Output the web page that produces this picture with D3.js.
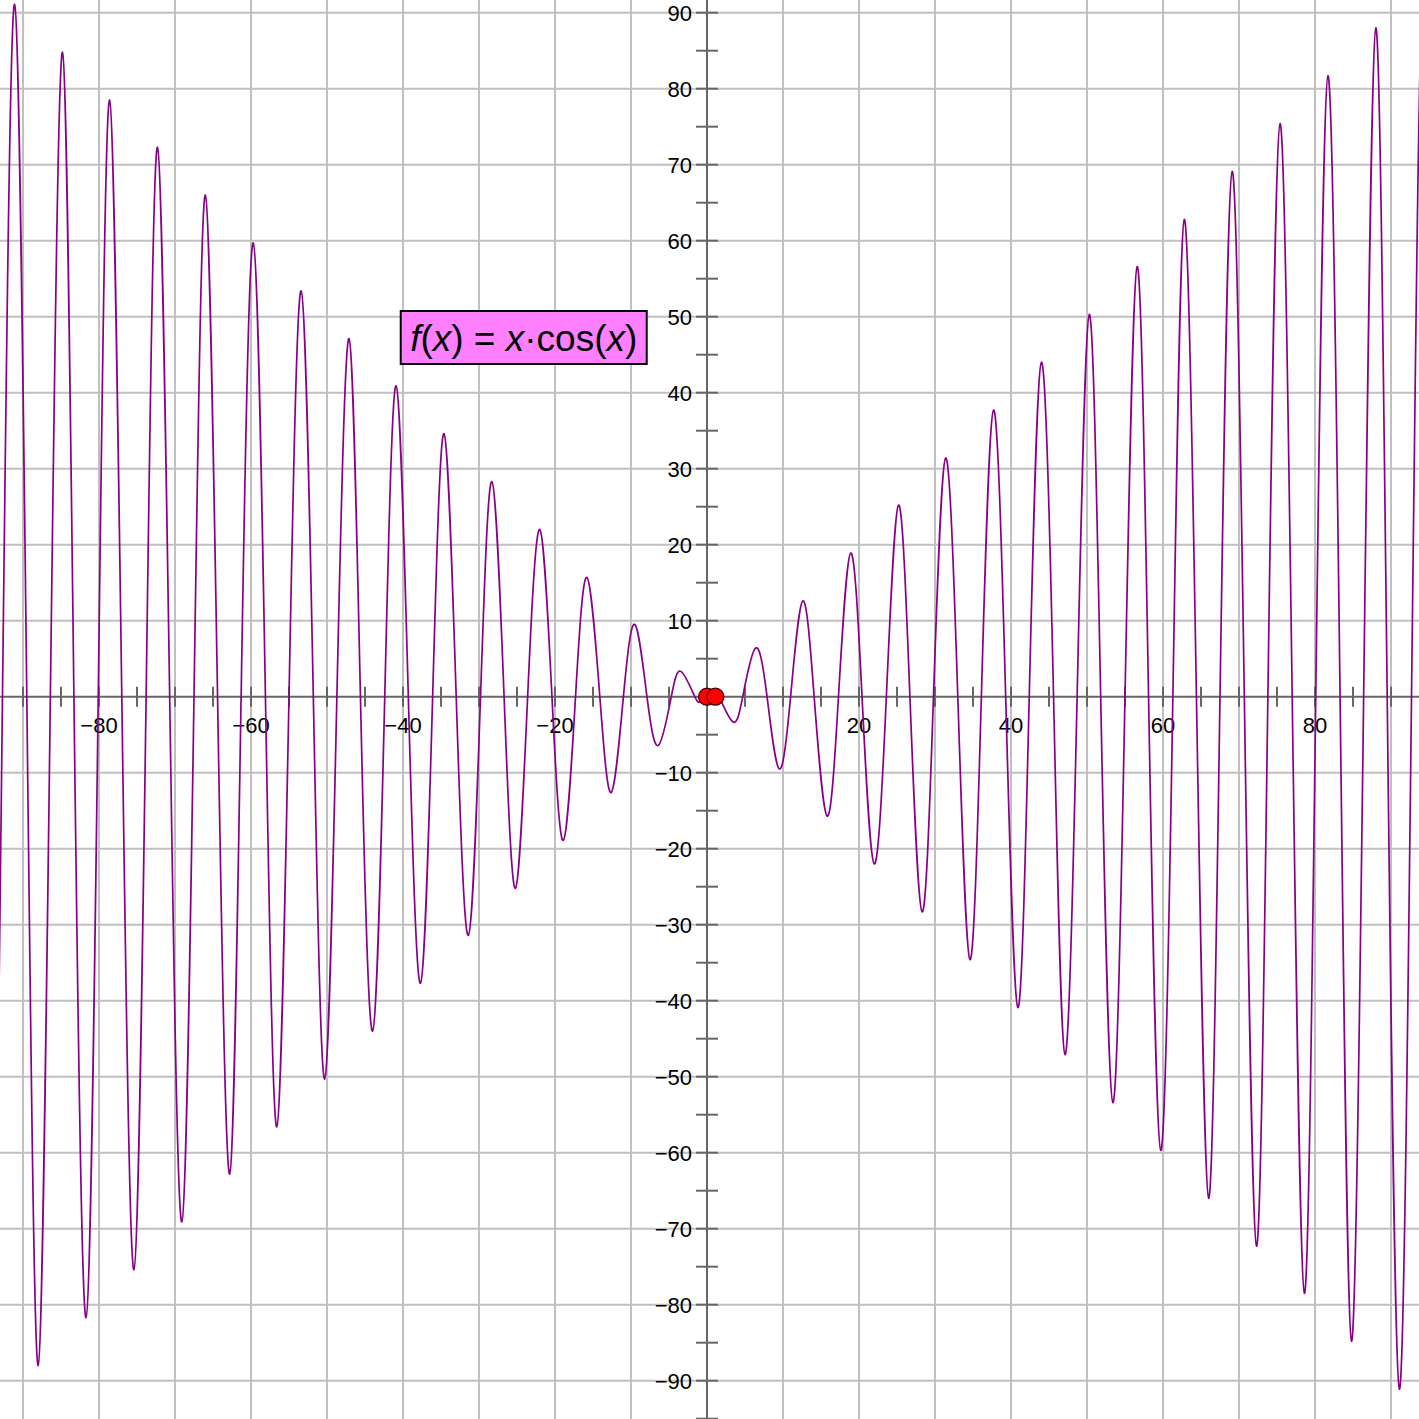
<!DOCTYPE html>
<html>
<head>
<meta charset="utf-8">
<script src="https://cdn.jsdelivr.net/npm/d3@7"></script>
<style>
  html, body { margin: 0; padding: 0; background: #fff; }
  svg { display: block; }
</style>
</head>
<body>
<script>
// ---- data ----
// local extrema of the plotted curve (x, y)
const extremaX = [-97.4,-94.3,-91.1,-88.0,-84.8,-81.7,-78.6,-75.4,-72.3,-69.1,-66.0,-62.8,-59.7,-56.6,-53.4,-50.3,-47.1,-44.0,-40.9,-37.7,-34.6,-31.4,-28.3,-25.2,-22.0,-18.9,-15.8,-12.6,-9.5,-6.4,-3.4,-0.9,
                  0.9,3.4,6.4,9.5,12.6,15.8,18.9,22.0,25.2,28.3,31.4,34.6,37.7,40.9,44.0,47.1,50.3,53.4,56.6,59.7,62.8,66.0,69.1,72.3,75.4,78.6,81.7,84.8,88.0,91.1,94.3,97.4];
const extremaY = [97.4,-94.3,91.1,-88.0,84.8,-81.7,78.5,-75.4,72.3,-69.1,66.0,-62.8,59.7,-56.6,53.4,-50.3,47.1,-44.0,40.9,-37.7,34.6,-31.4,28.3,-25.2,22.0,-18.9,15.7,-12.6,9.5,-6.4,3.3,-0.6,
                  0.6,-3.3,6.4,-9.5,12.6,-15.7,18.9,-22.0,25.2,-28.3,31.4,-34.6,37.7,-40.9,44.0,-47.1,50.3,-53.4,56.6,-59.7,62.8,-66.0,69.1,-72.3,75.4,-78.5,81.7,-84.8,88.0,-91.1,94.3,-97.4];
// x where the curve crosses zero
const zeroX = [-95.8,-92.7,-89.5,-86.4,-83.3,-80.1,-77.0,-73.8,-70.7,-67.5,-64.4,-61.3,-58.1,-55.0,-51.8,-48.7,-45.6,-42.4,-39.3,-36.1,-33.0,-29.8,-26.7,-23.6,-20.4,-17.3,-14.1,-11.0,-7.9,-4.7,-1.6,0,
               1.6,4.7,7.9,11.0,14.1,17.3,20.4,23.6,26.7,29.8,33.0,36.1,39.3,42.4,45.6,48.7,51.8,55.0,58.1,61.3,64.4,67.5,70.7,73.8,77.0,80.1,83.3,86.4,89.5,92.7,95.8];
// the two red points
const pointX = [0, 1.1];
const pointY = [0, 0];
// axis tick labels
const xTickLabels = [-80, -60, -40, -20, 20, 40, 60, 80];
const yTickLabels = [-90, -80, -70, -60, -50, -40, -30, -20, -10, 10, 20, 30, 40, 50, 60, 70, 80, 90];
const gridValues = [-90, -80, -70, -60, -50, -40, -30, -20, -10, 10, 20, 30, 40, 50, 60, 70, 80, 90];
const minorTicks = d3.range(-95, 96, 5).filter(v => v !== 0);
const formula = [["f", true], ["(", false], ["x", true], [") = ", false], ["x", true], ["\u00B7cos(", false], ["x", true], [")", false]];

// ---- layout ----
const W = 1419, H = 1419;
const originX = 707, originY = 696.7, unit = 7.6;
const x = d3.scaleLinear().domain([-originX / unit, (W - originX) / unit]).range([0, W]);
const y = d3.scaleLinear().domain([originY / unit, -(H - originY) / unit]).range([0, H]);

const svg = d3.select("body").append("svg").attr("width", W).attr("height", H)
  .style("font-family", "'Liberation Sans', Arial, sans-serif");
svg.append("rect").attr("width", W).attr("height", H).attr("fill", "#fff");

// grid
const grid = svg.append("g").attr("stroke", "#c0c0c0").attr("stroke-width", 2);
grid.selectAll(".gv").data(gridValues).join("line")
  .attr("x1", d => x(d)).attr("x2", d => x(d)).attr("y1", 0).attr("y2", H);
grid.selectAll(".gh").data(gridValues).join("line")
  .attr("y1", d => y(d)).attr("y2", d => y(d)).attr("x1", 0).attr("x2", W);

// axes
const ax = svg.append("g").attr("stroke", "#666").attr("stroke-width", 2);
ax.append("line").attr("x1", 0).attr("x2", W).attr("y1", y(0)).attr("y2", y(0));
ax.append("line").attr("y1", 0).attr("y2", H).attr("x1", x(0)).attr("x2", x(0));
ax.selectAll(".tx").data(minorTicks).join("line")
  .attr("x1", d => x(d)).attr("x2", d => x(d)).attr("y1", y(0) - 10).attr("y2", y(0) + 10);
ax.selectAll(".ty").data(minorTicks).join("line")
  .attr("y1", d => y(d)).attr("y2", d => y(d)).attr("x1", x(0) - 11).attr("x2", x(0) + 11);

const fmt = d3.format("d");
svg.append("g").selectAll("text").data(xTickLabels).join("text")
  .attr("x", d => x(d)).attr("y", y(0) + 36).attr("text-anchor", "middle")
  .attr("font-size", 22).attr("fill", "#000").text(d => fmt(d));
svg.append("g").selectAll("text").data(yTickLabels).join("text")
  .attr("x", x(0) - 15).attr("y", d => y(d) + 7.8).attr("text-anchor", "end")
  .attr("font-size", 22).attr("fill", "#000").text(d => fmt(d));

// curve
const pts = extremaX.map((v, i) => [v, extremaY[i]])
  .concat(zeroX.map(v => [v, 0]))
  .sort((a, b) => a[0] - b[0]);
svg.append("path").datum(pts)
  .attr("fill", "none").attr("stroke", "#880088").attr("stroke-width", 1.7)
  .attr("d", d3.line().x(d => x(d[0])).y(d => y(d[1])).curve(d3.curveNatural));

// points
svg.append("g").selectAll("circle").data(pointX).join("circle")
  .attr("cx", d => x(d)).attr("cy", (d, i) => y(pointY[i])).attr("r", 8.5)
  .attr("fill", "#ff0000").attr("stroke", "#400000").attr("stroke-width", 1.2);

// formula label
const lbl = svg.append("g");
lbl.append("rect").attr("x", x(-40.3)).attr("y", y(50.75)).attr("width", 246).attr("height", 53)
  .attr("fill", "#ff80ff").attr("stroke", "#000").attr("stroke-width", 2);
const t = lbl.append("text").attr("x", x(-40.3) + 123).attr("y", y(50.75) + 40)
  .attr("text-anchor", "middle").attr("font-size", 37).attr("fill", "#000");
t.selectAll("tspan").data(formula).join("tspan")
  .attr("font-style", d => d[1] ? "italic" : "normal")
  .text(d => d[0]);
</script>
</body>
</html>
